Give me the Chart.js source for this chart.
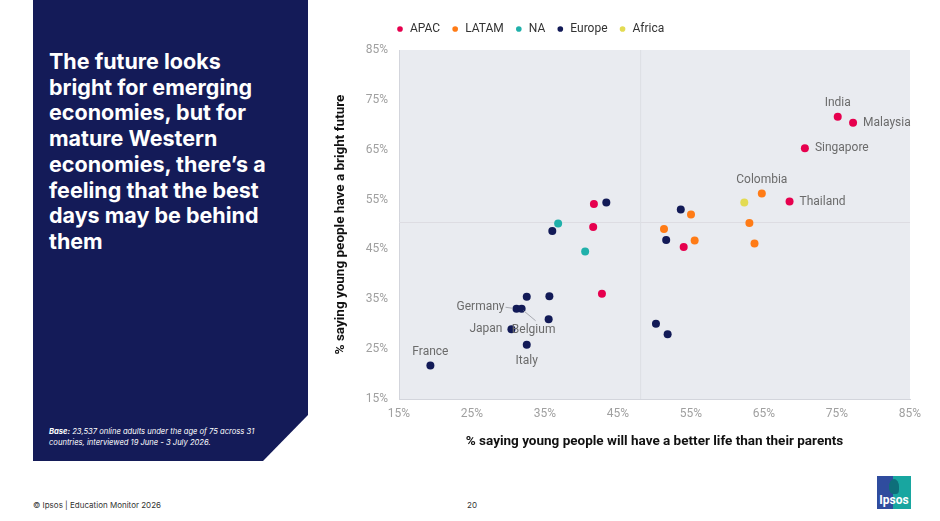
<!DOCTYPE html>
<html>
<head>
<meta charset="utf-8">
<script src="https://cdn.jsdelivr.net/npm/chart.js@4.4.1/dist/chart.umd.min.js"></script>
<style>
    body {
        margin: 0;
        width: 940px;
        height: 521px;
        background: #fff;
        position: relative;
        overflow: hidden;
        font-family: Inter, "Noto Sans", sans-serif;
    }
    #panel {
        position: absolute;
        left: 33px;
        top: 0;
        width: 275px;
        height: 461px;
        background: #141B58;
        clip-path: polygon(0 0, 100% 0, 100% 415px, 230px 100%, 0 100%);
    }
    #headline {
        position: absolute;
        left: 16px;
        top: 49px;
        width: 222px;
        margin: 0;
        color: #fff;
        font-size: 21.5px;
        font-weight: 700;
        line-height: 25.7px;
    }
    #base {
        position: absolute;
        left: 16px;
        top: 427px;
        width: 230px;
        color: #fff;
        font-size: 7.6px;
        font-style: italic;
        line-height: 10.5px;
    }
    #chartBox {
        position: absolute;
        left: 330px;
        top: 10px;
        width: 600px;
        height: 447px;
    }
    .foot {
        position: absolute;
        top: 500px;
        font-size: 8px;
        color: #333;
    }
    #logo {
        position: absolute;
        left: 877px;
        top: 476px;
        width: 34px;
        height: 33px;
        background: linear-gradient(to right, #2F4C9E 48%, #18A6A0 48%);
        overflow: hidden;
    }
    #logo .head {
        position: absolute;
        left: 12px;
        top: 3px;
        width: 10px;
        height: 15px;
        border-radius: 50% 50% 30% 40%;
        background: #0E6F7A;
    }
    #logo span {
        position: absolute;
        left: 0;
        width: 34px;
        top: 17px;
        text-align: center;
        color: #fff;
        font-family: "Liberation Sans Narrow", Roboto, sans-serif;
        font-weight: 700;
        font-size: 12px;
    }
</style>
</head>
<body>
<div id="panel">
    <p id="headline">The future looks bright for emerging economies, but for mature Western economies, there’s a feeling that the best days may be behind them</p>
    <div id="base"><b>Base:</b> 23,537 online adults under the age of 75 across 31 countries, interviewed 19 June - 3 July 2026.</div>
</div>

<div id="chartBox"><canvas id="myChart"></canvas></div>

<div class="foot" style="left:33px">© Ipsos | Education Monitor 2026</div>
<div class="foot" style="left:467px">20</div>
<div id="logo"><div class="head"></div><span>Ipsos</span></div>

<script>
const regions = ["APAC", "LATAM", "NA", "Europe", "Africa"];
const tickValues = [15, 25, 35, 45, 55, 65, 75, 85];

const apacNames = ["India", "Malaysia", "Singapore", "Thailand", "", "", "", ""];
const apacX = [75.1, 77.2, 70.6, 68.5, 41.7, 41.6, 42.8, 54.0];
const apacY = [71.6, 70.4, 65.3, 54.6, 54.1, 49.5, 36.1, 45.5];

const latamNames = ["Colombia", "", "", "", "", ""];
const latamX = [64.7, 55.0, 63.0, 51.3, 55.5, 63.7];
const latamY = [56.2, 52.0, 50.3, 49.1, 46.8, 46.2];

const naNames = ["", ""];
const naX = [36.8, 40.5];
const naY = [50.2, 44.6];

const europeNames = ["", "", "", "", "Germany", "Belgium", "", "Japan", "Italy", "France", "", "", "", ""];
const europeX = [43.4, 36.0, 32.5, 35.6, 31.1, 31.8, 35.5, 30.4, 32.5, 19.3, 53.6, 51.6, 50.2, 51.8];
const europeY = [54.4, 48.7, 35.5, 35.6, 33.1, 33.1, 31.0, 29.0, 25.9, 21.7, 53.0, 46.9, 30.1, 28.0];

const africaNames = [""];
const africaX = [62.3];
const africaY = [54.4];

// averages shown as the two faint cross lines
const avgX = 48.1;
const avgY = 50.4;

const colors = ["#E6004E", "#FF7B16", "#20B0AA", "#121A57", "#E3DB52"];

const labelPlacement = {
    India: "above", Malaysia: "right", Singapore: "right", Thailand: "right",
    Colombia: "above", Germany: "leaderLeft", Belgium: "leaderBelow",
    Japan: "left", Italy: "below", France: "above"
};

const toPoints = (xs, ys) => xs.map((x, i) => ({ x: x, y: ys[i] }));

const series = [
    [apacX, apacY, apacNames],
    [latamX, latamY, latamNames],
    [naX, naY, naNames],
    [europeX, europeY, europeNames],
    [africaX, africaY, africaNames]
];

const datasets = series.map((s, i) => ({
    label: regions[i],
    data: toPoints(s[0], s[1]),
    names: s[2],
    backgroundColor: colors[i],
    borderWidth: 0,
    pointRadius: 4,
    pointHoverRadius: 4,
    order: 0
}));

datasets.push({
    type: "line", label: "avgX",
    data: [{ x: avgX, y: 15 }, { x: avgX, y: 85 }],
    borderColor: "#DCDEE4", borderWidth: 1, pointRadius: 0, order: 10
});
datasets.push({
    type: "line", label: "avgY",
    data: [{ x: 15, y: avgY }, { x: 85, y: avgY }],
    borderColor: "#DDDCE2", borderWidth: 1, pointRadius: 0, order: 10
});

const plotBg = {
    id: "plotBg",
    beforeDraw(chart) {
        const { ctx, chartArea: a } = chart;
        ctx.save();
        ctx.fillStyle = "#E9EBF0";
        ctx.fillRect(a.left, a.top, a.width, a.height);
        ctx.restore();
    }
};

// legend starts at the plot's left edge, and sits a bit higher than the layout gives it
const legendShift = {
    id: "legendShift",
    afterLayout(chart) {
        const lg = chart.legend;
        const dx = chart.chartArea.left - lg.left - 14;
        lg.left += dx;
        lg.right += dx;
        lg.top -= 5;
        lg.bottom -= 5;
    }
};

const pointLabels = {
    id: "pointLabels",
    afterDatasetsDraw(chart) {
        const ctx = chart.ctx;
        ctx.save();
        ctx.font = "12px Roboto";
        ctx.fillStyle = "#6B6B6B";
        ctx.strokeStyle = "#A9ABB2";
        ctx.lineWidth = 1;
        ctx.textBaseline = "middle";
        chart.data.datasets.forEach((ds, i) => {
            if (!ds.names) return;
            const meta = chart.getDatasetMeta(i);
            ds.names.forEach((name, j) => {
                if (!name) return;
                const p = meta.data[j];
                const place = labelPlacement[name];
                if (place === "above") {
                    ctx.textAlign = "center";
                    ctx.fillText(name, p.x, p.y - 14);
                } else if (place === "below") {
                    ctx.textAlign = "center";
                    ctx.fillText(name, p.x, p.y + 16);
                } else if (place === "right") {
                    ctx.textAlign = "left";
                    ctx.fillText(name, p.x + 10, p.y);
                } else if (place === "left") {
                    ctx.textAlign = "right";
                    ctx.fillText(name, p.x - 9, p.y);
                } else if (place === "leaderLeft") {
                    ctx.beginPath();
                    ctx.moveTo(p.x - 11, p.y - 1.5);
                    ctx.lineTo(p.x - 4, p.y - 0.5);
                    ctx.stroke();
                    ctx.textAlign = "right";
                    ctx.fillText(name, p.x - 12, p.y - 1.5);
                } else if (place === "leaderBelow") {
                    ctx.beginPath();
                    ctx.moveTo(p.x + 2, p.y + 2);
                    ctx.lineTo(p.x + 14, p.y + 12);
                    ctx.stroke();
                    ctx.textAlign = "center";
                    ctx.fillText(name, p.x + 12, p.y + 21);
                }
            });
        });
        ctx.restore();
    }
};

const pctTick = v => v + "%";

new Chart("myChart", {
    type: "scatter",
    data: { datasets: datasets },
    plugins: [plotBg, legendShift, pointLabels],
    options: {
        responsive: true,
        maintainAspectRatio: false,
        animation: false,
        layout: { padding: { top: 7, right: 20 } },
        plugins: {
            tooltip: { enabled: false },
            legend: {
                display: true,
                position: "top",
                align: "start",
                labels: {
                    usePointStyle: true,
                    pointStyle: "circle",
                    boxWidth: 8,
                    boxHeight: 4,
                    padding: 11,
                    color: "#333",
                    font: { family: "Roboto", size: 12 },
                    filter: item => regions.includes(item.text)
                }
            }
        },
        scales: {
            x: {
                type: "linear",
                min: 15,
                max: 85,
                afterBuildTicks: scale => { scale.ticks = tickValues.map(v => ({ value: v })); },
                afterFit: scale => { scale.height = 58; },
                grid: { display: false },
                border: { color: "#D3D5DC" },
                ticks: {
                    callback: pctTick,
                    color: "#A0A0A0",
                    padding: 0,
                    font: { family: "Roboto", size: 12 }
                },
                title: {
                    display: true,
                    text: "% saying young people will have a better life than their parents",
                    color: "#111",
                    padding: { top: 4, bottom: 7 },
                    font: { family: "Roboto", size: 13.5, weight: "bold" }
                }
            },
            y: {
                type: "linear",
                min: 15,
                max: 85,
                afterBuildTicks: scale => { scale.ticks = tickValues.map(v => ({ value: v })); },
                afterFit: scale => { scale.width = 69; },
                grid: { display: false },
                border: { color: "#D3D5DC" },
                ticks: {
                    callback: pctTick,
                    color: "#A0A0A0",
                    font: { family: "Roboto", size: 12 }
                },
                title: {
                    display: true,
                    text: "% saying young people have a bright future",
                    color: "#111",
                    padding: { top: 3, bottom: 0 },
                    font: { family: "Roboto", size: 13.5, weight: "bold" }
                }
            }
        }
    }
});
</script>
</body>
</html>
